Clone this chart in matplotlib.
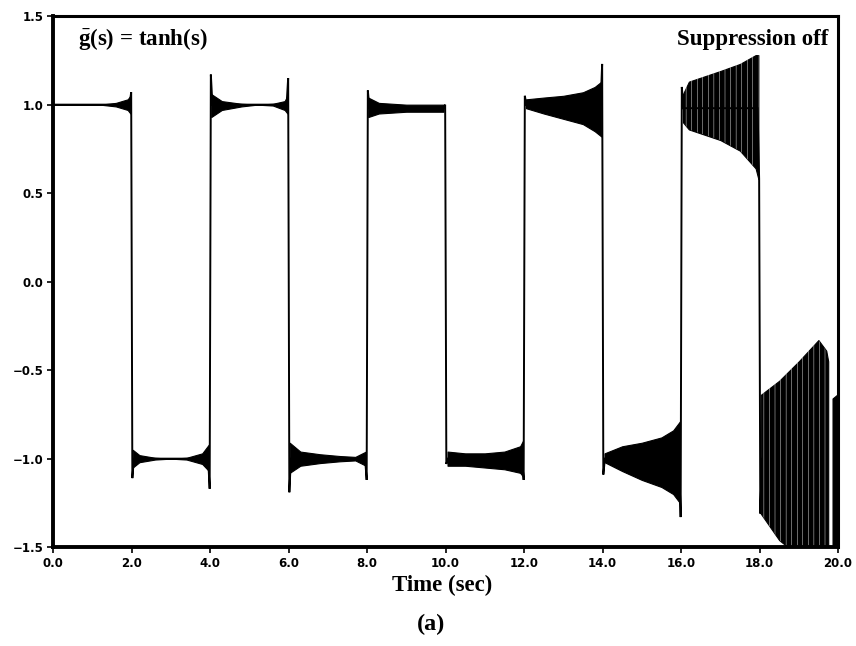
import numpy as np
import matplotlib.pyplot as plt

plt.rcParams["hatch.linewidth"] = 0.3
plt.rcParams["mathtext.fontset"] = "custom"
plt.rcParams["mathtext.bf"] = "Liberation Serif:bold"
plt.rcParams["mathtext.rm"] = "Liberation Serif:bold"

# ── Signal description ─────────────────────────────────────────
# plateau level of each 2 s segment and the overshoot spikes at the switches
seg_start  = [0.0, 2.0, 4.0, 6.0, 8.0, 10.0, 12.0, 14.0, 16.0, 18.0]
seg_end    = [2.0, 4.0, 6.0, 8.0, 10.0, 12.0, 14.0, 16.0, 18.0, 20.0]
levels     = [1.0, -1.0, 1.0, -1.0, 0.98, -1.0, 1.0, -1.0, 0.98, -1.0]
post_spike = [1.0, -1.11, 1.17, -1.19, 1.08, -1.03, 1.05, -1.09, 1.10, -1.31]
pre_spike  = [1.07, -1.17, 1.15, -1.12, 1.0, -1.12, 1.23, -1.33, 0.58, -1.0]

# oscillation envelope (upper / lower) within each segment
env_t = [
    [0.0, 1.2, 1.6, 1.9, 1.97],
    [2.03, 2.2, 2.6, 3.0, 3.4, 3.8, 3.97],
    [4.03, 4.3, 4.8, 5.2, 5.6, 5.9, 5.97],
    [6.03, 6.3, 6.8, 7.3, 7.7, 7.97],
    [8.03, 8.3, 9.0, 9.95],
    [10.05, 10.5, 11.0, 11.5, 11.9, 11.97],
    [12.05, 12.5, 13.0, 13.5, 13.8, 13.97],
    [14.05, 14.5, 15.0, 15.5, 15.8, 15.97],
    [16.05, 16.2, 16.6, 17.0, 17.5, 17.9, 17.97],
    [18.03, 18.5, 19.0, 19.5, 19.7, 19.75],
]
env_hi = [
    [1.0, 1.0, 1.01, 1.03, 1.05],
    [-0.95, -0.98, -0.995, -1.0, -0.995, -0.97, -0.92],
    [1.06, 1.02, 1.005, 1.0, 1.005, 1.02, 1.05],
    [-0.91, -0.96, -0.975, -0.985, -0.99, -0.96],
    [1.04, 1.01, 1.0, 1.0],
    [-0.96, -0.97, -0.97, -0.96, -0.93, -0.90],
    [1.03, 1.04, 1.05, 1.07, 1.10, 1.13],
    [-0.97, -0.93, -0.91, -0.88, -0.84, -0.79],
    [1.06, 1.13, 1.16, 1.19, 1.23, 1.28, 1.28],
    [-0.64, -0.56, -0.45, -0.33, -0.39, -0.45],
]
env_lo = [
    [1.0, 1.0, 0.99, 0.97, 0.95],
    [-1.05, -1.02, -1.005, -1.0, -1.005, -1.03, -1.07],
    [0.93, 0.97, 0.99, 1.0, 0.995, 0.97, 0.95],
    [-1.08, -1.04, -1.025, -1.015, -1.01, -1.04],
    [0.93, 0.95, 0.96, 0.96],
    [-1.04, -1.04, -1.05, -1.06, -1.08, -1.10],
    [0.98, 0.95, 0.92, 0.89, 0.85, 0.82],
    [-1.02, -1.07, -1.12, -1.16, -1.20, -1.25],
    [0.90, 0.86, 0.83, 0.80, 0.74, 0.64, 0.58],
    [-1.31, -1.46, -1.55, -1.55, -1.55, -1.55],
]
# last burst just before t = 20
tail_t  = [19.86, 19.97]
tail_hi = [-0.66, -0.64]
tail_lo = [-1.55, -1.55]

x_ticks = [0, 2, 4, 6, 8, 10, 12, 14, 16, 18, 20]
y_ticks = [-1.5, -1.0, -0.5, 0.0, 0.5, 1.0, 1.5]

# ── Figure ─────────────────────────────────────────────────────
fig = plt.figure(figsize=(8.56, 6.46), dpi=100)
ax = fig.add_axes([0.062, 0.153, 0.917, 0.822])

# square-wave trace with switching spikes
tx, ty = [], []
for i in range(len(levels)):
    s, e = seg_start[i], seg_end[i]
    if i > 0:
        tx += [s + 0.02, s + 0.06]
        ty += [post_spike[i], levels[i]]
    else:
        tx += [s]
        ty += [levels[i]]
    if i < len(levels) - 1:
        tx += [e - 0.05, e - 0.01]
        ty += [levels[i], pre_spike[i]]
ax.plot(tx, ty, color="black", lw=1.4, solid_joinstyle="miter")

# oscillation bands (streaked where the swing is large)
for i in range(len(env_t)):
    ax.fill_between(env_t[i], env_lo[i], env_hi[i], color="black", lw=0.8)
    if i >= 8:
        ax.fill_between(env_t[i], env_lo[i], env_hi[i], facecolor="none",
                        edgecolor="white", hatch="|||", lw=0)
ax.fill_between(tail_t, tail_lo, tail_hi, color="black", lw=0.8)

ax.set_xlim(0, 20)
ax.set_ylim(-1.5, 1.5)
ax.set_xticks(x_ticks)
ax.set_xticklabels([f"{v:.1f}" for v in x_ticks])
ax.set_yticks(y_ticks)
ax.set_yticklabels([f"{v:.1f}".replace("-", "\u2212") for v in y_ticks])
ax.tick_params(direction="out", length=4, width=1.2, pad=3, labelsize=8.5)
for lab in ax.get_xticklabels() + ax.get_yticklabels():
    lab.set_fontweight("bold")
for side, w in [("left", 2.8), ("bottom", 2.8), ("top", 2.2), ("right", 2.2)]:
    ax.spines[side].set_linewidth(w)

serif = ["Liberation Serif", "DejaVu Serif"]
ax.text(0.032, 0.945, r"$\bar{\mathbf{g}}$(s) = tanh(s)", transform=ax.transAxes,
        ha="left", va="baseline", fontsize=16.5, fontweight="bold", family=serif)
ax.text(0.988, 0.945, "Suppression off", transform=ax.transAxes,
        ha="right", va="baseline", fontsize=16.5, fontweight="bold", family=serif)
fig.text(0.516, 0.093, "Time (sec)", ha="center", va="center", fontsize=16.5,
         fontweight="bold", family=serif)
fig.text(0.504, 0.033, "(a)", ha="center", va="center", fontsize=17.5,
         fontweight="bold", family=serif)

fig.savefig("out.png", dpi=100, facecolor="white")
